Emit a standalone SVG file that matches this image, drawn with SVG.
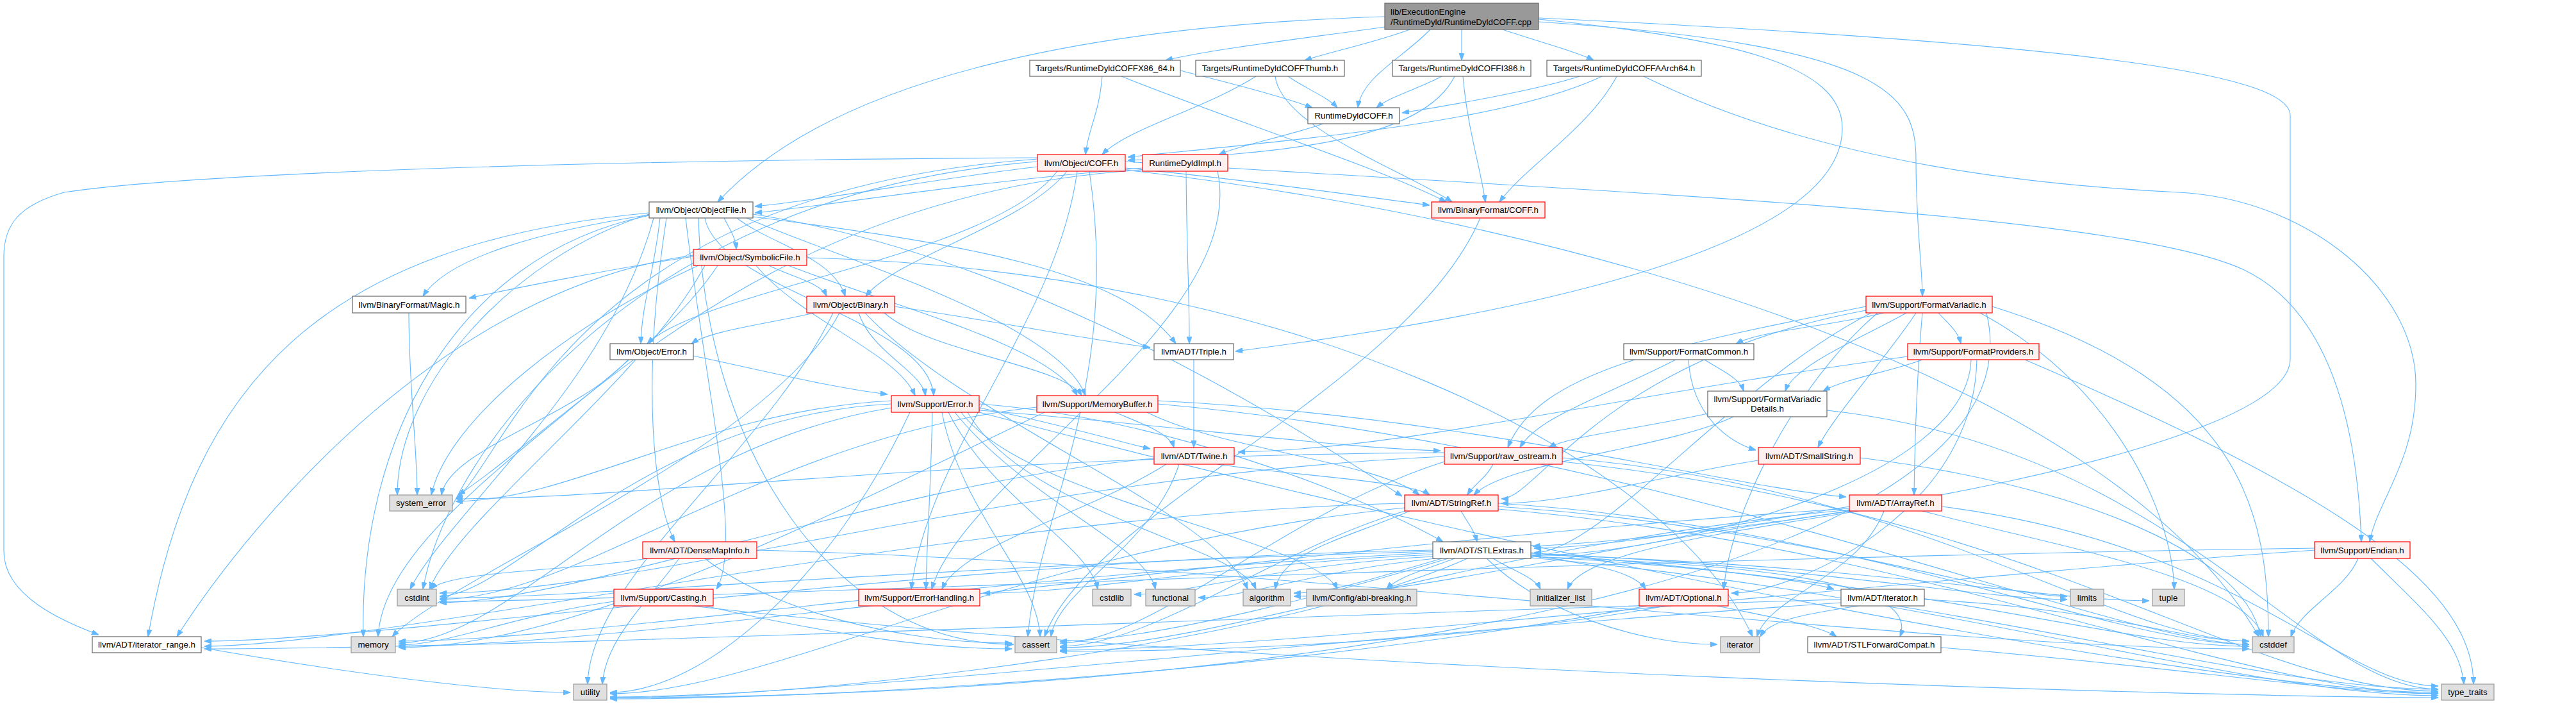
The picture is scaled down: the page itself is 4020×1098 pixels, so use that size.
<svg xmlns="http://www.w3.org/2000/svg" width="4020" height="1098" viewBox="0 0 4020 1098">
<defs>
<marker id="a" viewBox="0 0 11 8" refX="11" refY="4" markerWidth="11" markerHeight="8" markerUnits="userSpaceOnUse" orient="auto">
<path d="M0,0L11,4L0,8z" fill="#63b8ff" stroke="#63b8ff" stroke-width="1"/>
</marker>
<style>
.e{fill:none;stroke:#63b8ff;stroke-width:1.1;marker-end:url(#a)}
.w{fill:#ffffff;stroke:#666666;stroke-width:1.2}
.r{fill:#fff0f0;stroke:#ff0000;stroke-width:1.2}
.g{fill:#e0e0e0;stroke:#999999;stroke-width:1.2}
.k{fill:#999999;stroke:#666666;stroke-width:1.2}
text{font-family:"Liberation Sans",Arial,Helvetica,sans-serif;font-size:13.33px;fill:#000000;text-anchor:middle}
text.l{text-anchor:start}
</style>
</defs>
<rect x="0" y="0" width="4020" height="1098" fill="#ffffff"/>
<g id="edges">
<path class="e" d="M2161,26 C1700,40 1300,120 1120,315"/>
<path class="e" d="M2161,42 C2050,58 1900,75 1819,94"/>
<path class="e" d="M2200,46 C2150,65 2080,80 2036,94"/>
<path class="e" d="M2232,46 C2190,90 2125,120 2119,168"/>
<path class="e" d="M2281,46 L2281,94"/>
<path class="e" d="M2345,46 C2400,65 2460,80 2487,94"/>
<path class="e" d="M2401,30 C2700,60 2875,100 2875,200 C2875,400 2300,500 1928,548"/>
<path class="e" d="M2401,34 C2950,70 2990,150 2990,250 C2990,350 3000,420 3000,462"/>
<path class="e" d="M2401,28 C3300,70 3574,120 3574,180 L3574,560 C3574,700 2800,830 2392,852"/>
<path class="e" d="M1842,110 C1920,130 2000,150 2048,168"/>
<path class="e" d="M1720,119 C1715,180 1698,200 1694,241"/>
<path class="e" d="M1750,119 C1900,180 2150,260 2257,315"/>
<path class="e" d="M1960,119 C1880,170 1760,200 1720,241"/>
<path class="e" d="M2010,119 C2040,140 2070,150 2087,168"/>
<path class="e" d="M1990,119 C2000,200 2200,270 2266,315"/>
<path class="e" d="M2250,119 C2210,140 2170,150 2148,168"/>
<path class="e" d="M2270,119 C2220,220 2000,240 1760,250"/>
<path class="e" d="M2283,119 C2290,200 2310,260 2318,315"/>
<path class="e" d="M2465,119 C2400,140 2260,165 2188,176"/>
<path class="e" d="M2500,119 C2350,190 2050,215 1760,245"/>
<path class="e" d="M2523,119 C2480,200 2380,260 2340,315"/>
<path class="e" d="M2565,119 C2850,260 3200,290 3400,300 C3600,310 3770,450 3770,600 C3770,720 3710,780 3698,845"/>
<path class="e" d="M2065,193 C2000,215 1940,225 1902,241"/>
<path class="e" d="M1619,260 C1450,280 1300,310 1178,322"/>
<path class="e" d="M1756,262 C1950,280 2150,310 2231,320"/>
<path class="e" d="M1665,267 C1600,350 1400,400 1351,462"/>
<path class="e" d="M1650,267 C1550,400 1100,450 1010,536"/>
<path class="e" d="M1756,252 C2500,300 3300,330 3500,420 C3650,490 3680,700 3685,845"/>
<path class="e" d="M1681,267 C1650,500 1450,700 1422,919"/>
<path class="e" d="M1700,267 C1750,600 1620,800 1604,993"/>
<path class="e" d="M1756,265 C2500,350 3300,600 3525,993"/>
<path class="e" d="M1619,252 C1000,300 700,700 660,919"/>
<path class="e" d="M1619,248 C900,300 800,700 712,778"/>
<path class="e" d="M1619,246 C900,250 300,270 100,300 C30,320 6,350 6,400 L6,860 C6,930 100,970 154,990"/>
<path class="e" d="M1783,262 C1500,285 1300,320 1178,332"/>
<path class="e" d="M1851,267 C1852,400 1856,450 1856,536"/>
<path class="e" d="M1783,265 C1200,300 900,650 715,772"/>
<path class="e" d="M1900,267 C1950,500 1500,750 1454,919"/>
<path class="e" d="M1130,340 C1140,360 1148,370 1149,389"/>
<path class="e" d="M1013,335 C850,360 700,400 660,462"/>
<path class="e" d="M1150,340 C1200,380 1300,400 1319,462"/>
<path class="e" d="M1030,340 C1020,430 1002,470 1000,536"/>
<path class="e" d="M1175,338 C1500,380 1750,420 1835,536"/>
<path class="e" d="M1100,340 C1120,450 1450,500 1457,617"/>
<path class="e" d="M1165,340 C1300,400 1650,500 1694,617"/>
<path class="e" d="M1175,334 C1600,400 2000,650 2188,774"/>
<path class="e" d="M1013,332 C500,380 300,600 231,993"/>
<path class="e" d="M1070,340 C1100,600 1160,850 1118,919"/>
<path class="e" d="M1040,340 C1000,600 1020,780 1053,845"/>
<path class="e" d="M1090,340 C1100,700 1300,1005 1582,1005"/>
<path class="e" d="M1020,340 C950,600 700,800 640,919"/>
<path class="e" d="M1013,336 C700,400 560,700 567,993"/>
<path class="e" d="M1013,334 C800,400 620,600 620,772"/>
<path class="e" d="M1082,400 C950,420 800,450 732,465"/>
<path class="e" d="M1200,414 C1230,430 1280,440 1290,462"/>
<path class="e" d="M1180,414 C1250,500 1400,550 1428,617"/>
<path class="e" d="M1230,414 C1400,480 1640,540 1681,617"/>
<path class="e" d="M1082,398 C700,450 400,800 276,993"/>
<path class="e" d="M1100,414 C1000,600 720,800 670,919"/>
<path class="e" d="M1120,414 C1000,600 600,800 590,993"/>
<path class="e" d="M1090,414 C900,500 700,650 673,772"/>
<path class="e" d="M1259,402 C2000,420 2600,700 2735,993"/>
<path class="e" d="M638,488 C638,600 651,700 651,772"/>
<path class="e" d="M1270,488 C1200,505 1110,515 1079,536"/>
<path class="e" d="M1396,478 C1550,500 1700,530 1795,542"/>
<path class="e" d="M1340,488 C1360,550 1440,580 1444,617"/>
<path class="e" d="M1380,488 C1450,550 1660,570 1688,617"/>
<path class="e" d="M1310,488 C1200,700 700,900 612,993"/>
<path class="e" d="M1300,488 C1200,700 920,900 917,1067"/>
<path class="e" d="M1350,488 C1500,650 1900,800 1947,919"/>
<path class="e" d="M1082,555 C1200,580 1300,605 1385,615"/>
<path class="e" d="M980,561 C900,650 700,700 689,772"/>
<path class="e" d="M1863,561 L1863,698"/>
<path class="e" d="M1528,630 C1800,650 2100,760 2252,845"/>
<path class="e" d="M1528,636 C1650,660 1750,690 1795,700"/>
<path class="e" d="M1500,643 C1600,780 2050,840 2087,919"/>
<path class="e" d="M1455,643 C1452,780 1446,850 1445,919"/>
<path class="e" d="M1528,640 C1800,660 2100,700 2248,703"/>
<path class="e" d="M1510,643 C1600,800 1930,850 1960,919"/>
<path class="e" d="M1470,643 C1500,800 1620,900 1623,993"/>
<path class="e" d="M1391,630 C1000,650 800,930 686,930"/>
<path class="e" d="M1480,643 C1550,780 1700,850 1713,919"/>
<path class="e" d="M1490,643 C1600,780 1790,850 1803,919"/>
<path class="e" d="M1391,636 C1000,700 800,1003 622,1003"/>
<path class="e" d="M1391,625 C1100,640 900,780 711,782"/>
<path class="e" d="M1528,643 C2500,900 3500,1080 3805,1080"/>
<path class="e" d="M1420,643 C1300,900 1100,1080 952,1080"/>
<path class="e" d="M1807,625 C2300,650 2700,760 2881,775"/>
<path class="e" d="M1790,643 C1900,700 2150,720 2215,772"/>
<path class="e" d="M1740,643 C1780,660 1825,675 1832,698"/>
<path class="e" d="M1807,630 C2600,700 3300,1005 3510,1005"/>
<path class="e" d="M1618,635 C1200,680 900,935 686,935"/>
<path class="e" d="M1630,643 C1300,800 900,1010 622,1010"/>
<path class="e" d="M1900,724 C2000,740 2200,750 2231,772"/>
<path class="e" d="M1820,724 C1700,800 1500,850 1470,919"/>
<path class="e" d="M1840,724 C1800,850 1650,920 1640,993"/>
<path class="e" d="M1801,715 C1400,750 900,940 686,940"/>
<path class="e" d="M2940,488 C2850,510 2750,515 2709,536"/>
<path class="e" d="M3025,488 C3040,505 3055,515 3060,536"/>
<path class="e" d="M2975,488 C2900,530 2800,570 2786,610"/>
<path class="e" d="M2990,488 C2950,550 2860,650 2837,698"/>
<path class="e" d="M2912,478 C2600,540 2400,580 2353,698"/>
<path class="e" d="M2912,484 C2500,560 2400,778 2343,778"/>
<path class="e" d="M2920,488 C2700,600 2500,862 2394,862"/>
<path class="e" d="M3000,488 C2990,600 2988,700 2987,772"/>
<path class="e" d="M2930,488 C2800,600 2700,800 2690,919"/>
<path class="e" d="M3090,488 C3300,600 3390,800 3393,919"/>
<path class="e" d="M3109,478 C3500,600 3540,800 3540,993"/>
<path class="e" d="M3100,488 C3200,900 2000,1088 952,1088"/>
<path class="e" d="M2660,561 C2690,580 2715,590 2721,610"/>
<path class="e" d="M2615,561 C2500,620 2400,650 2372,698"/>
<path class="e" d="M2635,561 C2640,650 2700,690 2740,702"/>
<path class="e" d="M3000,561 C2950,580 2880,590 2845,610"/>
<path class="e" d="M2977,556 C2500,620 2200,700 1932,705"/>
<path class="e" d="M3076,561 C3070,750 2600,866 2394,866"/>
<path class="e" d="M3085,561 C3080,800 2800,925 2702,925"/>
<path class="e" d="M3160,561 C3600,750 3860,900 3860,1067"/>
<path class="e" d="M2665,645 C2550,670 2450,680 2417,698"/>
<path class="e" d="M2705,650 C2600,700 2350,720 2300,772"/>
<path class="e" d="M2851,640 C3400,700 3600,1075 3805,1075"/>
<path class="e" d="M2330,724 C2320,745 2300,755 2290,772"/>
<path class="e" d="M2254,720 C2000,800 1800,1003 1654,1003"/>
<path class="e" d="M2438,714 C3000,760 3300,1000 3510,1000"/>
<path class="e" d="M2254,712 C1600,740 1000,925 686,925"/>
<path class="e" d="M2254,706 C1500,710 1000,778 711,778"/>
<path class="e" d="M2438,720 C3200,800 3500,1078 3805,1078"/>
<path class="e" d="M2744,718 C2600,740 2450,785 2343,785"/>
<path class="e" d="M2903,714 C3200,750 3500,850 3528,993"/>
<path class="e" d="M2280,797 C2290,815 2300,825 2305,845"/>
<path class="e" d="M2192,785 C1500,800 600,1008 319,1008"/>
<path class="e" d="M2200,797 C2100,840 2000,860 1990,919"/>
<path class="e" d="M2200,795 C2000,850 1800,1008 1654,1008"/>
<path class="e" d="M2338,785 C2900,820 3300,1005 3510,1005"/>
<path class="e" d="M2338,790 C2800,820 3100,930 3226,930"/>
<path class="e" d="M2338,794 C3000,850 3500,1082 3805,1082"/>
<path class="e" d="M2192,792 C1600,850 1200,1082 952,1082"/>
<path class="e" d="M2886,790 C2700,820 2500,855 2394,855"/>
<path class="e" d="M2890,797 C2500,850 2200,930 2019,930"/>
<path class="e" d="M2886,795 C2300,850 1900,1010 1654,1010"/>
<path class="e" d="M3000,797 C3200,850 3500,900 3532,993"/>
<path class="e" d="M2900,797 C2700,830 2470,860 2446,919"/>
<path class="e" d="M2940,797 C2900,900 2760,930 2742,993"/>
<path class="e" d="M2886,793 C2000,850 1000,1008 622,1008"/>
<path class="e" d="M3030,790 C3500,850 3650,1070 3805,1070"/>
<path class="e" d="M2389,866 C2480,880 2550,890 2568,919"/>
<path class="e" d="M2389,868 C2700,880 3000,900 2965,993"/>
<path class="e" d="M2389,862 C2600,880 2800,900 2862,919"/>
<path class="e" d="M2236,858 C1500,870 600,1000 319,1000"/>
<path class="e" d="M2270,871 C2220,890 2180,900 2164,919"/>
<path class="e" d="M2236,865 C1900,880 1700,925 1534,925"/>
<path class="e" d="M2250,871 C2150,900 2080,925 2019,925"/>
<path class="e" d="M2260,871 C2100,920 1800,1000 1654,1000"/>
<path class="e" d="M2389,868 C3000,900 3300,1008 3510,1008"/>
<path class="e" d="M2236,860 C1500,880 900,933 686,933"/>
<path class="e" d="M2236,868 C2000,880 1850,927 1770,927"/>
<path class="e" d="M2240,871 C2050,890 1950,932 1870,932"/>
<path class="e" d="M2330,871 C2360,890 2395,900 2404,919"/>
<path class="e" d="M2320,871 C2400,950 2550,1005 2680,1005"/>
<path class="e" d="M2389,863 C2800,880 3100,935 3226,935"/>
<path class="e" d="M2236,862 C1500,900 900,1000 622,1000"/>
<path class="e" d="M2389,865 C2900,880 3200,937 3354,937"/>
<path class="e" d="M2389,870 C3000,920 3500,1085 3805,1085"/>
<path class="e" d="M2290,871 C2000,1000 1300,1088 952,1088"/>
<path class="e" d="M1100,871 C1200,950 1400,1003 1579,1003"/>
<path class="e" d="M1181,858 C2000,880 3000,1012 3510,1012"/>
<path class="e" d="M1010,871 C900,890 700,890 672,919"/>
<path class="e" d="M1060,871 C1000,950 945,1000 940,1067"/>
<path class="e" d="M3612,858 C3000,900 2000,1014 1654,1014"/>
<path class="e" d="M3612,855 C2500,870 1000,938 686,938"/>
<path class="e" d="M3680,871 C3660,920 3590,950 3575,993"/>
<path class="e" d="M3700,871 C3780,950 3840,1000 3845,1067"/>
<path class="e" d="M1100,945 C1300,990 1450,1012 1579,1012"/>
<path class="e" d="M958,938 C800,960 700,1006 622,1006"/>
<path class="e" d="M1080,945 C2000,1050 3500,1088 3805,1088"/>
<path class="e" d="M2680,945 C2750,960 2840,975 2866,993"/>
<path class="e" d="M2600,945 C2300,1000 1900,1016 1654,1016"/>
<path class="e" d="M2570,945 C2000,1050 1300,1090 952,1090"/>
<path class="e" d="M2873,935 C2000,960 800,1012 319,1012"/>
<path class="e" d="M3003,935 C3300,950 3400,1000 3510,1000"/>
<path class="e" d="M2900,945 C2800,960 2760,970 2747,993"/>
<path class="e" d="M2960,945 C3300,1000 3600,1075 3805,1075"/>
<path class="e" d="M2873,940 C2000,1000 1300,1087 952,1087"/>
<path class="e" d="M314,1010 C600,1060 800,1080 890,1080"/>
<path class="e" d="M3029,1010 C3400,1040 3650,1082 3805,1082"/>
<path class="e" d="M2310,340 C2200,600 1700,800 1630,993"/>
</g>
<g id="n_root"><rect class="k" x="2161" y="5" width="240" height="41"/><text class="l" x="2170" y="23">lib/ExecutionEngine</text><text class="l" x="2170" y="39">/RuntimeDyld/RuntimeDyldCOFF.cpp</text></g>
<g id="n_x86"><rect class="w" x="1607" y="94" width="235" height="25"/><text x="1724.5" y="111">Targets/RuntimeDyldCOFFX86_64.h</text></g>
<g id="n_thumb"><rect class="w" x="1866" y="94" width="232" height="25"/><text x="1982" y="111">Targets/RuntimeDyldCOFFThumb.h</text></g>
<g id="n_i386"><rect class="w" x="2173" y="94" width="216" height="25"/><text x="2281" y="111">Targets/RuntimeDyldCOFFI386.h</text></g>
<g id="n_aarch64"><rect class="w" x="2414" y="94" width="241" height="25"/><text x="2534.5" y="111">Targets/RuntimeDyldCOFFAArch64.h</text></g>
<g id="n_rdcoff"><rect class="w" x="2041" y="168" width="143" height="25"/><text x="2112.5" y="185">RuntimeDyldCOFF.h</text></g>
<g id="n_objcoff"><rect class="r" x="1619" y="241" width="137" height="26"/><text x="1687.5" y="258.5">llvm/Object/COFF.h</text></g>
<g id="n_rdimpl"><rect class="r" x="1783" y="241" width="133" height="26"/><text x="1849.5" y="258.5">RuntimeDyldImpl.h</text></g>
<g id="n_objfile"><rect class="w" x="1013" y="315" width="162" height="25"/><text x="1094" y="332">llvm/Object/ObjectFile.h</text></g>
<g id="n_bfcoff"><rect class="r" x="2234" y="315" width="177" height="25"/><text x="2322.5" y="332">llvm/BinaryFormat/COFF.h</text></g>
<g id="n_symfile"><rect class="r" x="1082" y="389" width="177" height="25"/><text x="1170.5" y="406">llvm/Object/SymbolicFile.h</text></g>
<g id="n_magic"><rect class="w" x="550" y="462" width="177" height="26"/><text x="638.5" y="479.5">llvm/BinaryFormat/Magic.h</text></g>
<g id="n_binary"><rect class="r" x="1259" y="462" width="137" height="26"/><text x="1327.5" y="479.5">llvm/Object/Binary.h</text></g>
<g id="n_fmtvar"><rect class="r" x="2912" y="462" width="197" height="26"/><text x="3010.5" y="479.5">llvm/Support/FormatVariadic.h</text></g>
<g id="n_objerr"><rect class="w" x="952" y="536" width="130" height="25"/><text x="1017" y="553">llvm/Object/Error.h</text></g>
<g id="n_triple"><rect class="w" x="1801" y="536" width="124" height="25"/><text x="1863" y="553">llvm/ADT/Triple.h</text></g>
<g id="n_fmtcommon"><rect class="w" x="2534" y="536" width="203" height="25"/><text x="2635.5" y="553">llvm/Support/FormatCommon.h</text></g>
<g id="n_fmtprov"><rect class="r" x="2977" y="536" width="205" height="25"/><text x="3079.5" y="553">llvm/Support/FormatProviders.h</text></g>
<g id="n_fmtvardet"><rect class="w" x="2665" y="610" width="186" height="40"/><text x="2758" y="627">llvm/Support/FormatVariadic</text><text x="2758" y="642">Details.h</text></g>
<g id="n_superr"><rect class="r" x="1391" y="617" width="137" height="26"/><text x="1459.5" y="634.5">llvm/Support/Error.h</text></g>
<g id="n_membuf"><rect class="r" x="1618" y="617" width="189" height="26"/><text x="1712.5" y="634.5">llvm/Support/MemoryBuffer.h</text></g>
<g id="n_twine"><rect class="r" x="1801" y="698" width="125" height="26"/><text x="1863.5" y="715.5">llvm/ADT/Twine.h</text></g>
<g id="n_rawos"><rect class="r" x="2254" y="698" width="184" height="26"/><text x="2346" y="715.5">llvm/Support/raw_ostream.h</text></g>
<g id="n_smallstr"><rect class="r" x="2744" y="698" width="159" height="26"/><text x="2823.5" y="715.5">llvm/ADT/SmallString.h</text></g>
<g id="n_syserr"><rect class="g" x="608" y="772" width="98" height="25"/><text x="657" y="789">system_error</text></g>
<g id="n_strref"><rect class="r" x="2192" y="772" width="146" height="25"/><text x="2265" y="789">llvm/ADT/StringRef.h</text></g>
<g id="n_arrref"><rect class="r" x="2886" y="772" width="144" height="25"/><text x="2958" y="789">llvm/ADT/ArrayRef.h</text></g>
<g id="n_densemap"><rect class="r" x="1003" y="845" width="178" height="26"/><text x="1092" y="862.5">llvm/ADT/DenseMapInfo.h</text></g>
<g id="n_stlextras"><rect class="w" x="2236" y="845" width="153" height="26"/><text x="2312.5" y="862.5">llvm/ADT/STLExtras.h</text></g>
<g id="n_endian"><rect class="r" x="3612" y="845" width="149" height="26"/><text x="3686.5" y="862.5">llvm/Support/Endian.h</text></g>
<g id="n_cstdint"><rect class="g" x="620" y="919" width="61" height="26"/><text x="650.5" y="936.5">cstdint</text></g>
<g id="n_casting"><rect class="r" x="958" y="919" width="155" height="26"/><text x="1035.5" y="936.5">llvm/Support/Casting.h</text></g>
<g id="n_errhand"><rect class="r" x="1340" y="919" width="189" height="26"/><text x="1434.5" y="936.5">llvm/Support/ErrorHandling.h</text></g>
<g id="n_cstdlib"><rect class="g" x="1705" y="919" width="60" height="26"/><text x="1735" y="936.5">cstdlib</text></g>
<g id="n_functional"><rect class="g" x="1788" y="919" width="77" height="26"/><text x="1826.5" y="936.5">functional</text></g>
<g id="n_algorithm"><rect class="g" x="1940" y="919" width="74" height="26"/><text x="1977" y="936.5">algorithm</text></g>
<g id="n_abi"><rect class="g" x="2039" y="919" width="172" height="26"/><text x="2125" y="936.5">llvm/Config/abi-breaking.h</text></g>
<g id="n_initlist"><rect class="g" x="2388" y="919" width="96" height="26"/><text x="2436" y="936.5">initializer_list</text></g>
<g id="n_optional"><rect class="r" x="2558" y="919" width="139" height="26"/><text x="2627.5" y="936.5">llvm/ADT/Optional.h</text></g>
<g id="n_iteratorh"><rect class="w" x="2873" y="919" width="130" height="26"/><text x="2938" y="936.5">llvm/ADT/iterator.h</text></g>
<g id="n_limits"><rect class="g" x="3231" y="919" width="52" height="26"/><text x="3257" y="936.5">limits</text></g>
<g id="n_tuple"><rect class="g" x="3359" y="919" width="50" height="26"/><text x="3384" y="936.5">tuple</text></g>
<g id="n_iterrange"><rect class="w" x="144" y="993" width="170" height="25"/><text x="229" y="1010">llvm/ADT/iterator_range.h</text></g>
<g id="n_memory"><rect class="g" x="548" y="993" width="69" height="25"/><text x="582.5" y="1010">memory</text></g>
<g id="n_cassert"><rect class="g" x="1584" y="993" width="65" height="25"/><text x="1616.5" y="1010">cassert</text></g>
<g id="n_iterator"><rect class="g" x="2685" y="993" width="61" height="25"/><text x="2715.5" y="1010">iterator</text></g>
<g id="n_stlfwd"><rect class="w" x="2821" y="993" width="208" height="25"/><text x="2925" y="1010">llvm/ADT/STLForwardCompat.h</text></g>
<g id="n_cstddef"><rect class="g" x="3515" y="993" width="65" height="25"/><text x="3547.5" y="1010">cstddef</text></g>
<g id="n_utility"><rect class="g" x="895" y="1067" width="52" height="25"/><text x="921" y="1084">utility</text></g>
<g id="n_typetraits"><rect class="g" x="3810" y="1067" width="82" height="25"/><text x="3851" y="1084">type_traits</text></g>
</svg>
